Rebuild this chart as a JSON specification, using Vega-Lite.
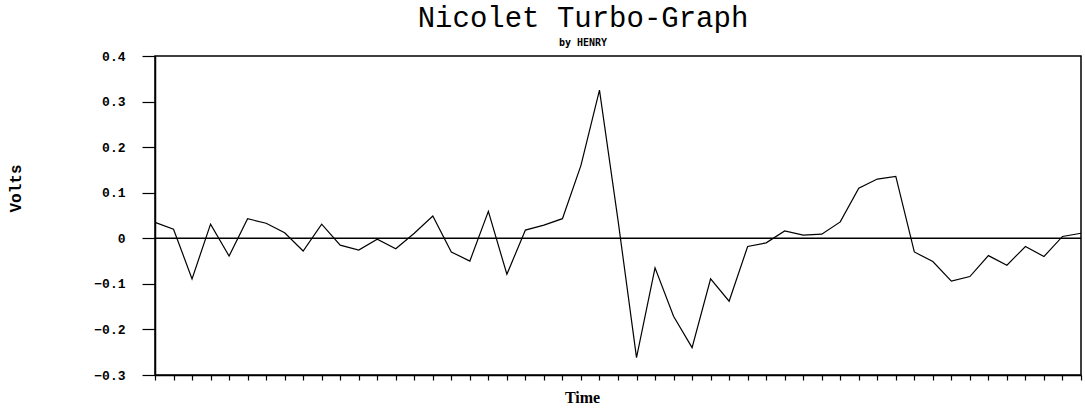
{
  "$schema": "https://vega.github.io/schema/vega-lite/v6.json",
  "width": 926,
  "height": 319,
  "autosize": {"type": "none"},
  "padding": {"left": 155, "top": 56, "right": 4, "bottom": 36},
  "background": "white",
  "title": {
    "text": "Nicolet Turbo-Graph",
    "subtitle": "by HENRY",
    "font": "Liberation Mono",
    "fontSize": 29,
    "fontWeight": "normal",
    "color": "black",
    "subtitleFont": "DejaVu Sans Mono",
    "subtitleFontSize": 10,
    "subtitleFontWeight": "bold",
    "subtitleColor": "black",
    "anchor": "middle",
    "dx": -35,
    "offset": 2,
    "subtitlePadding": 5
  },
  "config": {
    "view": {"stroke": "black", "strokeWidth": 1.5},
    "axis": {"grid": false, "domainColor": "black", "domainWidth": 1.5, "tickColor": "black", "tickWidth": 1.2, "labelColor": "black", "titleColor": "black"}
  },
  "data": {
    "values": [
      {"t": 0, "v": 0.035}, {"t": 1, "v": 0.020}, {"t": 2, "v": -0.089}, {"t": 3, "v": 0.031},
      {"t": 4, "v": -0.039}, {"t": 5, "v": 0.043}, {"t": 6, "v": 0.033}, {"t": 7, "v": 0.012},
      {"t": 8, "v": -0.028}, {"t": 9, "v": 0.031}, {"t": 10, "v": -0.015}, {"t": 11, "v": -0.026},
      {"t": 12, "v": -0.002}, {"t": 13, "v": -0.023}, {"t": 14, "v": 0.011}, {"t": 15, "v": 0.049},
      {"t": 16, "v": -0.030}, {"t": 17, "v": -0.050}, {"t": 18, "v": 0.059}, {"t": 19, "v": -0.079},
      {"t": 20, "v": 0.018}, {"t": 21, "v": 0.029}, {"t": 22, "v": 0.043}, {"t": 23, "v": 0.160},
      {"t": 24, "v": 0.325}, {"t": 25, "v": 0.040}, {"t": 26, "v": -0.262}, {"t": 27, "v": -0.065},
      {"t": 28, "v": -0.171}, {"t": 29, "v": -0.240}, {"t": 30, "v": -0.089}, {"t": 31, "v": -0.138},
      {"t": 32, "v": -0.018}, {"t": 33, "v": -0.010}, {"t": 34, "v": 0.016}, {"t": 35, "v": 0.007},
      {"t": 36, "v": 0.009}, {"t": 37, "v": 0.036}, {"t": 38, "v": 0.110}, {"t": 39, "v": 0.130},
      {"t": 40, "v": 0.136}, {"t": 41, "v": -0.030}, {"t": 42, "v": -0.051}, {"t": 43, "v": -0.094},
      {"t": 44, "v": -0.084}, {"t": 45, "v": -0.038}, {"t": 46, "v": -0.059}, {"t": 47, "v": -0.018},
      {"t": 48, "v": -0.040}, {"t": 49, "v": 0.004}, {"t": 50, "v": 0.011}
    ]
  },
  "layer": [
    {
      "mark": {"type": "line", "color": "black", "strokeWidth": 1.2},
      "encoding": {
        "x": {
          "field": "t",
          "type": "quantitative",
          "scale": {"domain": [0, 50], "nice": false},
          "axis": {
            "title": "Time",
            "titleFont": "Liberation Serif",
            "titleFontSize": 16,
            "titleFontWeight": "bold",
            "titleX": 427,
            "titlePadding": 9,
            "labels": false,
            "tickCount": 50,
            "tickSize": 5
          }
        },
        "y": {
          "field": "v",
          "type": "quantitative",
          "scale": {"domain": [-0.3, 0.4], "nice": false},
          "axis": {
            "title": "Volts",
            "titleFont": "Liberation Mono",
            "titleFontSize": 16,
            "titleFontWeight": "bold",
            "titleX": -140,
            "titleY": 132,
            "titleAlign": "center",
            "titleBaseline": "middle",
            "values": [-0.3, -0.2, -0.1, 0, 0.1, 0.2, 0.3, 0.4],
            "labelExpr": "datum.value == 0 ? '0' : format(datum.value, '.1f')",
            "labelFont": "Liberation Mono",
            "labelFontSize": 13,
            "labelFontWeight": "bold",
            "labelPadding": 17,
            "tickSize": 13
          }
        }
      }
    },
    {
      "data": {"values": [{"zero": 0}]},
      "mark": {"type": "rule", "color": "black", "strokeWidth": 1.5},
      "encoding": {"y": {"field": "zero", "type": "quantitative"}}
    }
  ]
}
